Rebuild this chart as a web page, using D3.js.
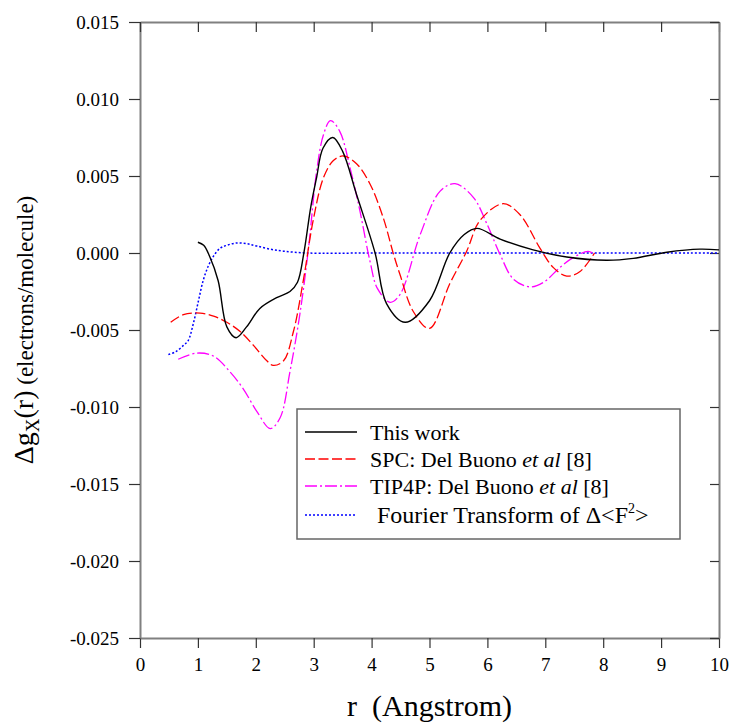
<!DOCTYPE html>
<html>
<head>
<meta charset="utf-8">
<script src="https://cdn.jsdelivr.net/npm/d3@7"></script>
<style>
  body { margin: 0; background: #fff; }
  svg text { font-family: "Liberation Serif", "DejaVu Serif", serif; }
</style>
</head>
<body>
<div id="chart"></div>
<script>
// data
var workR = [1.0, 1.1, 1.2, 1.35, 1.5, 1.66, 1.84, 2.07, 2.36, 2.59, 2.72, 2.83, 2.95, 3.05, 3.16, 3.33, 3.5, 3.74, 4.06, 4.26, 4.58, 5.0, 5.35, 5.6, 5.82, 6.22, 6.79, 7.37, 8.06, 8.52, 9.1, 9.67, 10.0];
var workG = [0.0007, 0.0005, -0.0002, -0.0018, -0.0048, -0.0055, -0.0048, -0.0036, -0.0029, -0.0025, -0.0019, 0.0, 0.0030, 0.0049, 0.0068, 0.0075, 0.0066, 0.0038, 0.0, -0.0033, -0.0045, -0.0031, 0.0, 0.0012, 0.0016, 0.0009, 0.0002, -0.00026, -0.00047, -0.00035, 0.00005, 0.00025, 0.0002];

var spcR = [0.53, 0.75, 1.04, 1.27, 1.5, 1.73, 1.96, 2.19, 2.3, 2.48, 2.65, 2.82, 2.99, 3.17, 3.34, 3.51, 3.74, 3.97, 4.2, 4.38, 4.49, 4.72, 5.0, 5.35, 5.64, 5.87, 6.27, 6.56, 6.91, 7.14, 7.37, 7.6, 7.85];
var spcG = [-0.0045, -0.0040, -0.0039, -0.0041, -0.0045, -0.0051, -0.0060, -0.0070, -0.0073, -0.0070, -0.0051, -0.0018, 0.0021, 0.0049, 0.0060, 0.0063, 0.0058, 0.0045, 0.0023, -0.0001, -0.0014, -0.0038, -0.0049, -0.0020, 0.0001, 0.0021, 0.0032, 0.0025, 0.0003, -0.00095, -0.0015, -0.0012, 0.0];

var tipR = [0.66, 0.98, 1.27, 1.55, 1.78, 2.02, 2.25, 2.42, 2.59, 2.76, 2.91, 3.05, 3.17, 3.29, 3.45, 3.63, 3.8, 3.97, 4.1, 4.32, 4.49, 4.84, 5.18, 5.44, 5.76, 5.99, 6.22, 6.45, 6.74, 6.97, 7.25, 7.48, 7.74, 7.86];
var tipG = [-0.0069, -0.0065, -0.0067, -0.0077, -0.0088, -0.0103, -0.0114, -0.0107, -0.0077, -0.0040, 0.0003, 0.0053, 0.0077, 0.0086, 0.0079, 0.0055, 0.0027, -0.0005, -0.0023, -0.0032, -0.0027, 0.0012, 0.0040, 0.0045, 0.0036, 0.0019, -0.0001, -0.0017, -0.0022, -0.0019, -0.00095, -0.0003, 0.0001, -0.0001];

var ftR = [0.49, 0.62, 0.75, 0.83, 0.92, 1.01, 1.09, 1.18, 1.27, 1.38, 1.5, 1.67, 1.85, 2.02, 2.25, 2.48, 2.88, 4.0, 6.0, 8.0, 10.0];
var ftG = [-0.0066, -0.0064, -0.0060, -0.0057, -0.0046, -0.0031, -0.0018, -0.00084, -0.0002, 0.0003, 0.0005, 0.00065, 0.0006, 0.00045, 0.00025, 0.00012, 0.0, 0.0, 0.0, 0.0, 0.0];

var xTicks = [0, 1, 2, 3, 4, 5, 6, 7, 8, 9, 10];
var yTicks = [-0.025, -0.020, -0.015, -0.010, -0.005, 0.000, 0.005, 0.010, 0.015];

var legendNames = ["This work", "SPC: Del Buono ", "TIP4P: Del Buono ", "Fourier Transform of \u0394<F"];

//svg size and margins
var svgWidth = 731;
var svgHeight = 724;
var margins = { top: 22, bottom: 86, left: 140, right: 12 };
var width = svgWidth - margins.left - margins.right;
var height = svgHeight - margins.top - margins.bottom;

var svg = d3.select("#chart")
    .append("svg")
    .attr("width", svgWidth)
    .attr("height", svgHeight);

var group = svg.append("g")
    .attr("transform", `translate(${margins.left}, ${margins.top})`);

var xScale = d3.scaleLinear().domain([0, 10]).range([0, width]);
var yScale = d3.scaleLinear().domain([-0.025, 0.015]).range([height, 0]);

var fmt = d => d3.format(".3f")(d).replace("\u2212", "-");

function styleAxis(g) {
    g.attr("font-size", 19);
    g.select(".domain").attr("stroke", "#808080").attr("stroke-width", 2);
    g.selectAll(".tick line").attr("stroke", "#333").attr("stroke-width", 1.2);
    g.selectAll(".tick text")
        .attr("fill", "#000")
        .style("font-family", "'Liberation Serif', serif")
        .style("font-size", "19px");
}

//axes, left/bottom with labels, top/right ticks only
group.append("g")
    .attr("transform", `translate(0, ${height})`)
    .call(d3.axisBottom(xScale).tickValues(xTicks).tickSize(10).tickSizeOuter(0).tickPadding(10))
    .call(styleAxis);
group.append("g")
    .call(d3.axisLeft(yScale).tickValues(yTicks).tickFormat(fmt).tickSize(11).tickSizeOuter(0).tickPadding(10))
    .call(styleAxis);
group.append("g")
    .call(d3.axisTop(xScale).tickValues(xTicks).tickSize(-10).tickSizeOuter(0).tickFormat(""))
    .call(styleAxis);
group.append("g")
    .attr("transform", `translate(${width}, 0)`)
    .call(d3.axisRight(yScale).tickValues(yTicks).tickSize(-9).tickSizeOuter(0).tickFormat(""))
    .call(styleAxis);

//the curves
var series = [
    { r: ftR, g: ftG, color: "#0000ff", dash: "2,2", w: 1.5 },
    { r: tipR, g: tipG, color: "#ff00ff", dash: "12,3,2,3", w: 1.3 },
    { r: spcR, g: spcG, color: "#ff0000", dash: "10,3.5", w: 1.3 },
    { r: workR, g: workG, color: "#000000", dash: null, w: 1.4 }
];

var line = d3.line()
    .x(d => xScale(d[0]))
    .y(d => yScale(d[1]))
    .curve(d3.curveCatmullRom.alpha(0.5));

series.forEach(function(s) {
    group.append("path")
        .datum(s.r.map((v, i) => [v, s.g[i]]))
        .attr("fill", "none")
        .attr("stroke", s.color)
        .attr("stroke-width", s.w)
        .attr("stroke-dasharray", s.dash)
        .attr("d", line);
});

//legend
var legend = svg.append("g").attr("transform", "translate(297, 409)");
legend.append("rect")
    .attr("width", 383)
    .attr("height", 130)
    .attr("fill", "#fff")
    .attr("stroke", "#666")
    .attr("stroke-width", 1.5);

var legendRows = [series[3], series[2], series[1], series[0]];
var rowY = [23, 50, 77, 106];
legendRows.forEach(function(s, i) {
    legend.append("line")
        .attr("x1", 8).attr("x2", 60)
        .attr("y1", rowY[i]).attr("y2", rowY[i])
        .attr("stroke", s.color)
        .attr("stroke-width", s.w)
        .attr("stroke-dasharray", s.dash);
});

legend.append("text").attr("x", 73).attr("y", rowY[0] + 8).attr("font-size", 22).text(legendNames[0]);
[1, 2].forEach(function(i) {
    var t = legend.append("text").attr("x", 73).attr("y", rowY[i] + 8).attr("font-size", 22);
    t.append("tspan").text(legendNames[i]);
    t.append("tspan").attr("font-style", "italic").text("et al");
    t.append("tspan").text(" [8]");
});
var ft = legend.append("text").attr("x", 80).attr("y", rowY[3] + 8).attr("font-size", 24);
ft.append("tspan").text(legendNames[3]);
ft.append("tspan").attr("font-size", 14).attr("dy", -10).text("2");
ft.append("tspan").attr("dy", 10).text(">");

//x-axis label
svg.append("text")
    .attr("x", margins.left + width / 2)
    .attr("y", 716)
    .attr("text-anchor", "middle")
    .attr("font-size", 30)
    .text("r \u00a0(Angstrom)");

//y-axis label
var yl = svg.append("text")
    .attr("transform", `translate(33, ${margins.top + height / 2}) rotate(-90)`)
    .attr("text-anchor", "middle");
yl.append("tspan").attr("font-size", 28).text("\u0394g");
yl.append("tspan").attr("font-size", 19).attr("dy", 6).text("X");
yl.append("tspan").attr("font-size", 28).attr("dy", -6).text("(r)");
yl.append("tspan").attr("font-size", 23).text(" (electrons/molecule)");
</script>
</body>
</html>
